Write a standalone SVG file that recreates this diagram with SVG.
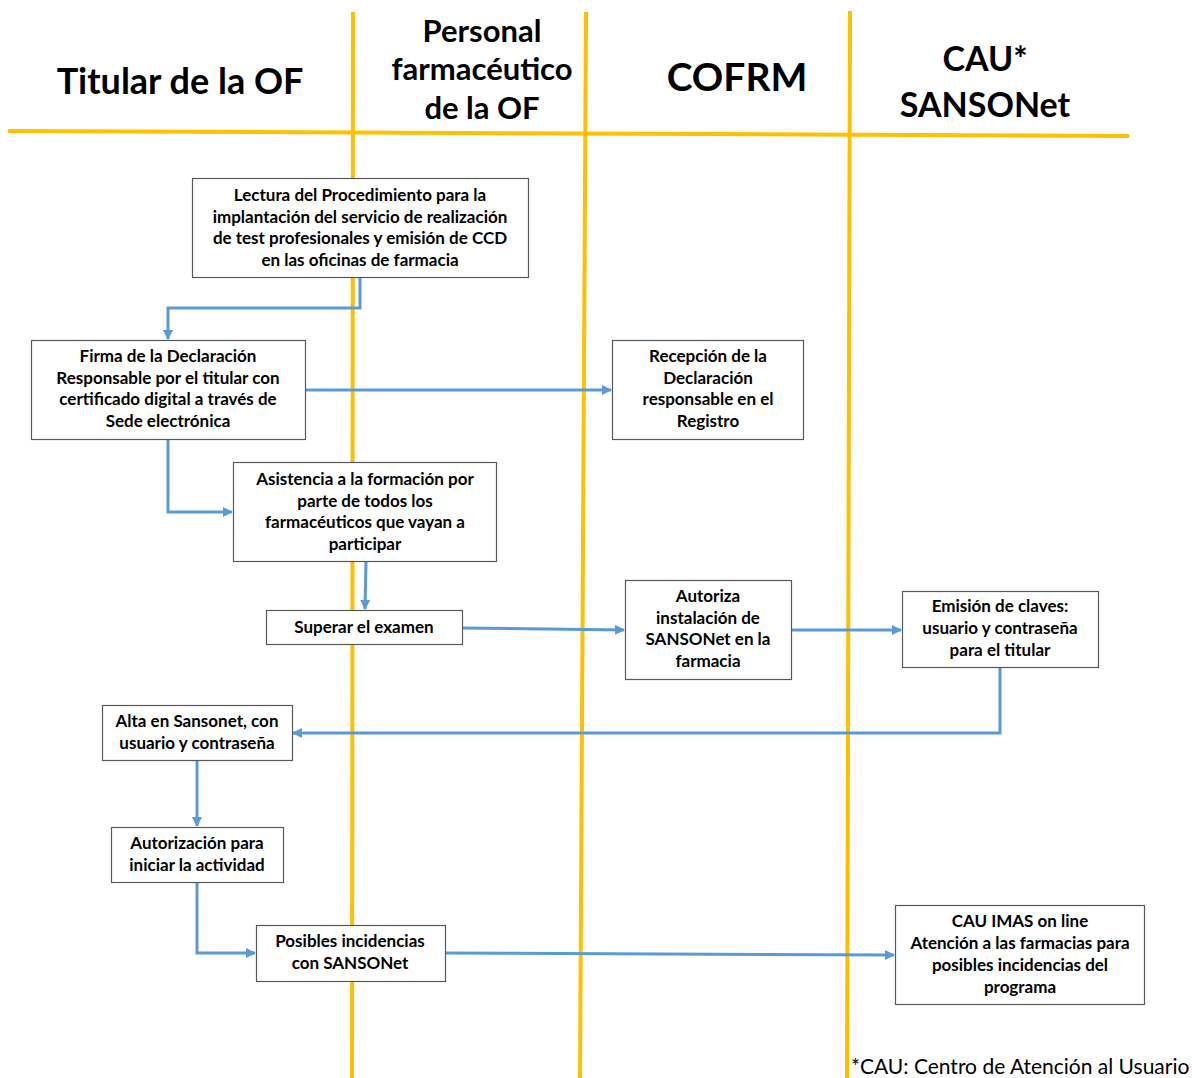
<svg xmlns="http://www.w3.org/2000/svg" width="1192" height="1078" viewBox="0 0 1192 1078">
<defs>
<marker id="ah" markerWidth="10" markerHeight="10" refX="9" refY="5" orient="auto" markerUnits="userSpaceOnUse">
<path d="M0,0 L10,5 L0,10 Z" fill="#5B9BD5"/>
</marker>
<style>
.lane{stroke:#FFC000;stroke-width:4;fill:none}
.box{fill:#fff;stroke:#595959;stroke-width:1.2}
.t{font-family:Lato,"Liberation Sans",sans-serif;font-weight:bold;font-size:17px;fill:#000;text-anchor:middle}
.h{font-family:Lato,"Liberation Sans",sans-serif;font-weight:bold;fill:#000;text-anchor:middle}
.c{stroke:#5B9BD5;stroke-width:3;fill:none;marker-end:url(#ah)}
.fn{font-family:Lato,"Liberation Sans",sans-serif;font-size:21px;fill:#000}
</style>
</defs>
<rect width="1192" height="1078" fill="#fff"/>
<g id="lanes">
<line class="lane" x1="353" y1="12" x2="352" y2="1078"/>
<line class="lane" x1="586" y1="12" x2="580" y2="1078"/>
<line class="lane" x1="850" y1="11" x2="847" y2="1078"/>
<line class="lane" x1="8" y1="131" x2="1129" y2="136"/>
</g>
<g id="headers">
<text class="h" x="180" y="94" font-size="36">Titular de la OF</text>
<text class="h" x="482" y="42" font-size="31">Personal</text>
<text class="h" x="482" y="80" font-size="31">farmacéutico</text>
<text class="h" x="482" y="119" font-size="31">de la OF</text>
<text class="h" x="737" y="91" font-size="39">COFRM</text>
<text class="h" x="985" y="71" font-size="34">CAU*</text>
<text class="h" x="985" y="117" font-size="34">SANSONet</text>
</g>
<g id="connectors">
<polyline class="c" points="360,277 360,308 168,308 168,339"/>
<line class="c" x1="305" y1="390" x2="611" y2="390"/>
<polyline class="c" points="168,439 168,512 232,512"/>
<line class="c" x1="366" y1="561" x2="365" y2="609"/>
<line class="c" x1="462" y1="628" x2="624" y2="630"/>
<line class="c" x1="791" y1="630" x2="901" y2="630"/>
<polyline class="c" points="1000,667 1000,733 293,733"/>
<line class="c" x1="197" y1="760" x2="197" y2="826"/>
<polyline class="c" points="197,882 197,953 255,953"/>
<line class="c" x1="445" y1="953" x2="894" y2="955"/>
</g>
<g id="n1">
<rect class="box" x="192.5" y="178.5" width="336" height="99"/>
<text class="t" x="360" y="201">Lectura del Procedimiento para la</text>
<text class="t" x="360" y="223">implantación del servicio de realización</text>
<text class="t" x="360" y="244">de test profesionales y emisión de CCD</text>
<text class="t" x="360" y="266">en las oficinas de farmacia</text>
</g>
<g id="n2">
<rect class="box" x="31.5" y="340.5" width="274" height="99"/>
<text class="t" x="168" y="362">Firma de la Declaración</text>
<text class="t" x="168" y="384">Responsable por el titular con</text>
<text class="t" x="168" y="405">certificado digital a través de</text>
<text class="t" x="168" y="427">Sede electrónica</text>
</g>
<g id="n3">
<rect class="box" x="612.5" y="340.5" width="191" height="99"/>
<text class="t" x="708" y="362">Recepción de la</text>
<text class="t" x="708" y="384">Declaración</text>
<text class="t" x="708" y="405">responsable en el</text>
<text class="t" x="708" y="427">Registro</text>
</g>
<g id="n4">
<rect class="box" x="233.5" y="462.5" width="263" height="99"/>
<text class="t" x="365" y="485">Asistencia a la formación por</text>
<text class="t" x="365" y="507">parte de todos los</text>
<text class="t" x="365" y="528">farmacéuticos que vayan a</text>
<text class="t" x="365" y="550">participar</text>
</g>
<g id="n5">
<rect class="box" x="266.5" y="610.5" width="196" height="34"/>
<text class="t" x="364" y="633">Superar el examen</text>
</g>
<g id="n6">
<rect class="box" x="625.5" y="580.5" width="166" height="99"/>
<text class="t" x="708" y="602">Autoriza</text>
<text class="t" x="708" y="624">instalación de</text>
<text class="t" x="708" y="645">SANSONet en la</text>
<text class="t" x="708" y="667">farmacia</text>
</g>
<g id="n7">
<rect class="box" x="902.5" y="591.5" width="196" height="76"/>
<text class="t" x="1000" y="612">Emisión de claves:</text>
<text class="t" x="1000" y="634">usuario y contraseña</text>
<text class="t" x="1000" y="656">para el titular</text>
</g>
<g id="n8">
<rect class="box" x="102.5" y="705.5" width="190" height="55"/>
<text class="t" x="197" y="727">Alta en Sansonet, con</text>
<text class="t" x="197" y="749">usuario y contraseña</text>
</g>
<g id="n9">
<rect class="box" x="111.5" y="827.5" width="172" height="55"/>
<text class="t" x="197" y="849">Autorización para</text>
<text class="t" x="197" y="871">iniciar la actividad</text>
</g>
<g id="n10">
<rect class="box" x="256.5" y="925.5" width="189" height="56"/>
<text class="t" x="350" y="947">Posibles incidencias</text>
<text class="t" x="350" y="969">con SANSONet</text>
</g>
<g id="n11">
<rect class="box" x="895.5" y="905.5" width="249" height="99"/>
<text class="t" x="1020" y="927">CAU IMAS on line</text>
<text class="t" x="1020" y="949">Atención a las farmacias para</text>
<text class="t" x="1020" y="971">posibles incidencias del</text>
<text class="t" x="1020" y="993">programa</text>
</g>
<text class="fn" x="851" y="1074">*CAU: Centro de Atención al Usuario</text>
</svg>
